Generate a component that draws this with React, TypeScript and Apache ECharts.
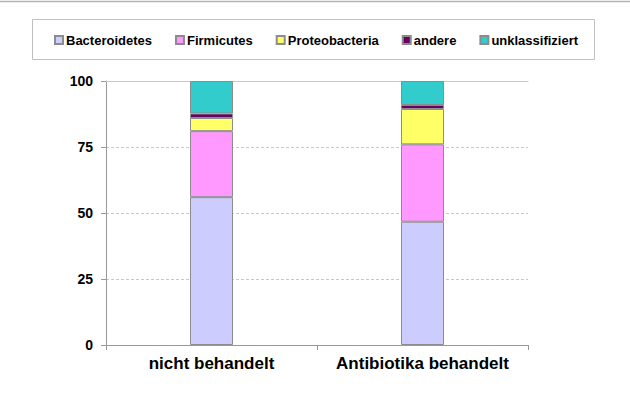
import React, { useEffect, useRef } from "react";
import * as echarts from "echarts";

const categories = ["nicht behandelt", "Antibiotika behandelt"];
const seriesNames = ["Bacteroidetes", "Firmicutes", "Proteobacteria", "andere", "unklassifiziert"];
const bacteroidetes = [56.0, 46.7];
const firmicutes = [25.0, 29.3];
const proteobacteria = [5.0, 13.4];
const andere = [1.7, 1.5];
const unklassifiziert = [12.3, 9.1];
const yTicks = [0, 25, 50, 75, 100];

const colors = ["#CCCCFF", "#FF99FF", "#FFFF66", "#660066", "#33CCCC"];
const FONT = "'Liberation Sans', Arial, sans-serif";

export default function App() {
  const ref = useRef<HTMLDivElement>(null);
  useEffect(() => {
    if (!ref.current) return;
    const chart = echarts.init(ref.current, undefined, { renderer: "svg" });
    const values = [bacteroidetes, firmicutes, proteobacteria, andere, unklassifiziert];
    chart.setOption({
      animation: false,
      backgroundColor: "#ffffff",
      textStyle: { fontFamily: FONT },
      graphic: [
        { type: "line", shape: { x1: 0, y1: 1.5, x2: 630, y2: 1.5 }, style: { stroke: "#b4b4b4", lineWidth: 1.5 } },
        { type: "rect", shape: { x: 32.5, y: 19.5, width: 562, height: 40 }, style: { fill: "none", stroke: "#c0c0c0", lineWidth: 1 } },
      ],
      legend: {
        top: 33,
        left: 54,
        padding: 0,
        itemWidth: 8,
        itemHeight: 8,
        itemGap: 23,
        icon: "rect",
        textStyle: { fontFamily: FONT, fontSize: 13, fontWeight: "bold", color: "#000", lineHeight: 14, padding: [0, 0, 0, -2] },
        data: seriesNames,
      },
      grid: { left: 106, right: 102, top: 81, bottom: 51, containLabel: false },
      xAxis: [
        {
          type: "category",
          data: categories,
          boundaryGap: true,
          axisLine: { lineStyle: { color: "#999999", width: 1 } },
          axisTick: { show: true, alignWithLabel: false, length: 5, lineStyle: { color: "#999999" } },
          axisLabel: { interval: 0, fontFamily: FONT, fontSize: 17, fontWeight: "bold", color: "#000", margin: 10 },
        },
        {
          type: "category",
          data: categories,
          position: "top",
          axisLine: { show: true, lineStyle: { color: "#c8c8c8", width: 1 } },
          axisTick: { show: false },
          axisLabel: { show: false },
        },
      ],
      yAxis: {
        type: "value",
        min: yTicks[0],
        max: yTicks[yTicks.length - 1],
        interval: 25,
        axisLine: { show: true, lineStyle: { color: "#999999", width: 1 } },
        axisTick: { show: true, length: 5, lineStyle: { color: "#999999" } },
        axisLabel: { fontFamily: FONT, fontSize: 14, fontWeight: "bold", color: "#000", margin: 13 },
        splitLine: { show: true, lineStyle: { color: "#c8c8c8", type: [3, 2], width: 1 } },
      },
      series: seriesNames.map((name, i) => ({
        name,
        type: "bar",
        stack: "total",
        barWidth: 43,
        data: values[i],
        itemStyle: { color: colors[i], borderColor: "#8c8c8c", borderWidth: 1 },
      })),
    });
    return () => chart.dispose();
  }, []);
  return <div ref={ref} style={{ position: "fixed", left: 0, top: 0, width: 630, height: 396 }} />;
}
